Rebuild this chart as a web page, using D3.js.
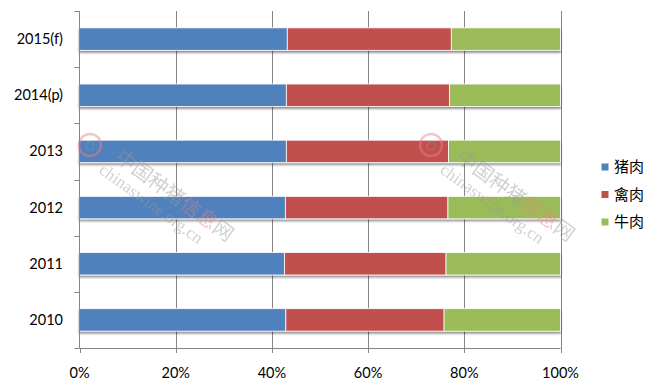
<!DOCTYPE html>
<html><head><meta charset="utf-8">
<script src="https://cdn.jsdelivr.net/npm/d3@7/dist/d3.min.js"></script>
<style>body{margin:0;background:#fff}svg{display:block}</style>
</head><body><svg id="c" width="659" height="387"></svg>
<script>
const categories = ["2015(f)","2014(p)","2013","2012","2011","2010"];
const seriesNames = ["猪肉","禽肉","牛肉"];
const pork    = [43.2, 43.0, 43.0, 42.8, 42.6, 42.9];
const poultry = [34.1, 33.9, 33.7, 33.8, 33.6, 32.9];
const beef    = [22.7, 23.1, 23.3, 23.4, 23.8, 24.2];
const xTicks = [0, 0.2, 0.4, 0.6, 0.8, 1.0];
const colors = ["#4F81BD","#C0504D","#9BBB59"];

const svg = d3.select("#c");
const m = {l:79.5, r:560.5, t:11, b:348};
const x = d3.scaleLinear().domain([0,1]).range([m.l, m.r]);
const y = d3.scaleBand().domain(categories).range([m.t, m.b]).paddingInner(0.6).paddingOuter(0.3);
const yb = d3.scaleBand().domain(categories).range([m.t, m.b]);

const defs = svg.append("defs");
const f = defs.append("filter").attr("id","sh").attr("x","-5%").attr("y","-20%").attr("width","110%").attr("height","160%");
f.append("feDropShadow").attr("dx",0).attr("dy",2).attr("stdDeviation",1.3).attr("flood-color","#000").attr("flood-opacity",0.45);

// gridlines
svg.append("g").selectAll("line").data(xTicks.slice(1)).join("line")
  .attr("x1",d=>Math.round(x(d))+0.5).attr("x2",d=>Math.round(x(d))+0.5)
  .attr("y1",m.t).attr("y2",m.b+5).attr("stroke","#868686").attr("stroke-width",1);

// bars
const data = categories.map((c,i)=>({c, v:[pork[i], poultry[i], beef[i]]}));
const rows = svg.append("g").selectAll("g").data(data).join("g").attr("filter","url(#sh)");
rows.each(function(d){
  let acc = 0;
  const segs = d.v.map((v,k)=>{const s={x0:acc/100,x1:(acc+v)/100,k}; acc+=v; return s;});
  d3.select(this).selectAll("rect").data(segs).join("rect")
    .attr("x",s=>x(s.x0)).attr("width",s=>x(s.x1)-x(s.x0))
    .attr("y",y(d.c)).attr("height",y.bandwidth())
    .attr("fill",s=>colors[s.k]).attr("stroke","#fff").attr("stroke-width",0.8);
});

// watermark (overlay)
function wm(ox){
  const g = svg.append("g").attr("opacity",0.45);
  g.append("circle").attr("cx",ox+8).attr("cy",145).attr("r",11).attr("fill","none").attr("stroke","#f08080").attr("stroke-width",2.5);
  g.append("circle").attr("cx",ox+8).attr("cy",146).attr("r",4).attr("fill","none").attr("stroke","#999").attr("stroke-width",1.2);
  g.append("text").attr("transform",`translate(${ox+32},160) rotate(36)`).attr("font-family","Noto Sans CJK SC").attr("font-size",20).attr("fill","#999")
    .selectAll("tspan").data(["中国种猪","信息","网"]).join("tspan").attr("fill",(d,i)=>i===1?"#f08080":"#999").text(d=>d);
  g.append("text").attr("transform",`translate(${ox+16},172) rotate(36)`).attr("font-family","Liberation Serif").attr("font-size",17).attr("fill","#999").text("chinaswine.org.cn");
}
wm(82); wm(423);

// axes
const ax = svg.append("g");
ax.append("line").attr("x1",m.l).attr("x2",m.l).attr("y1",m.t).attr("y2",m.b).attr("stroke","#868686");
ax.append("line").attr("x1",m.l).attr("x2",m.r).attr("y1",m.b+0.5).attr("y2",m.b+0.5).attr("stroke","#868686");
const yTickPos = categories.map(c=>yb(c)).concat([m.b]);
ax.selectAll(".yt").data(yTickPos).join("line").attr("x1",m.l-5).attr("x2",m.l)
  .attr("y1",d=>Math.round(d)+0.5).attr("y2",d=>Math.round(d)+0.5).attr("stroke","#868686");
ax.selectAll(".xt").data(xTicks).join("line").attr("x1",d=>Math.round(x(d))+0.5).attr("x2",d=>Math.round(x(d))+0.5)
  .attr("y1",m.b).attr("y2",m.b+5).attr("stroke","#868686");

svg.append("g").selectAll("text").data(categories).join("text")
  .attr("x",63).attr("y",c=>y(c)+y.bandwidth()/2).attr("dy","0.35em").attr("text-anchor","end")
  .attr("font-family","Lato").attr("font-size",14.5).attr("fill","#000").text(c=>c);
svg.append("g").selectAll("text").data(xTicks).join("text")
  .attr("x",d=>x(d)).attr("y",378).attr("text-anchor","middle")
  .attr("font-family","Lato").attr("font-size",14.5).attr("fill","#000").text(d=>d3.format(".0%")(d));

// legend
const lg = svg.append("g").selectAll("g").data(seriesNames).join("g")
  .attr("transform",(d,i)=>`translate(605,${167+i*27.5})`);
lg.append("rect").attr("x",-3.5).attr("y",-3.5).attr("width",7).attr("height",7).attr("fill",(d,i)=>colors[i]);
lg.append("text").attr("x",9).attr("dy","0.36em").attr("font-family","Noto Sans CJK SC").attr("font-size",15).attr("fill","#000").text(d=>d);
</script></body></html>
